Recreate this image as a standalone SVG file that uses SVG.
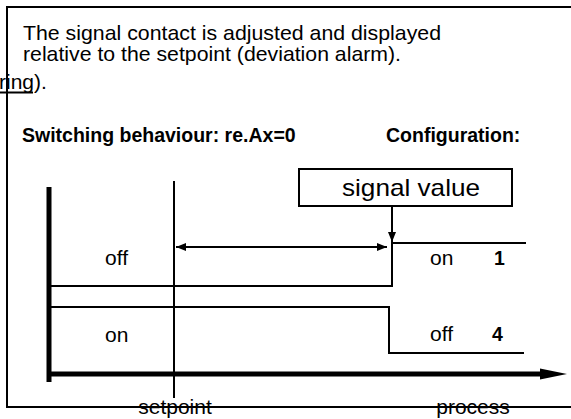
<svg xmlns="http://www.w3.org/2000/svg" width="571" height="419" viewBox="0 0 571 419">
  <defs>
    <style>
      .t { font-family: "Liberation Sans", Arial, Helvetica, sans-serif; font-size: 21px; fill: #000; }
      .b { font-family: "Liberation Sans", Arial, Helvetica, sans-serif; font-size: 19.5px; font-weight: bold; fill: #000; }
      .ln { stroke: #000; fill: none; stroke-width: 2; }
      .thick { stroke: #000; fill: none; stroke-width: 5; }
    </style>
    <marker id="ah" viewBox="0 0 10 8" refX="10" refY="4" markerWidth="10" markerHeight="8" markerUnits="userSpaceOnUse" orient="auto-start-reverse">
      <path d="M0,0 L10,4 L0,8 Z" fill="#000"/>
    </marker>
  </defs>

  <g id="frame">
    <path class="ln" d="M571,7 H7 V407 H571"/>
  </g>

  <g id="description">
    <text class="t" x="23" y="40" textLength="418" lengthAdjust="spacingAndGlyphs">The signal contact is adjusted and displayed</text>
    <text class="t" x="23" y="61" textLength="378" lengthAdjust="spacingAndGlyphs">relative to the setpoint (deviation alarm).</text>
    <text class="t" x="-1" y="89">ring).</text>
    <line x1="0" y1="92.5" x2="33" y2="92.5" stroke="#000" stroke-width="2"/>
  </g>

  <g id="headings">
    <text class="b" x="22" y="142">Switching behaviour: re.Ax=0</text>
    <text class="b" x="386" y="142">Configuration:</text>
  </g>

  <g id="signal-value">
    <rect x="299" y="169" width="213" height="37" fill="#fff" stroke="#000" stroke-width="2"/>
    <text class="t" x="411" y="196" text-anchor="middle" style="font-size:24px" textLength="138" lengthAdjust="spacingAndGlyphs">signal value</text>
  </g>

  <g id="axes">
    <line class="thick" x1="49" y1="187" x2="49" y2="382"/>
    <line class="thick" x1="47" y1="374" x2="542" y2="374"/>
    <polygon points="540,368.5 567,374 540,379.5" fill="#000"/>
    <line class="ln" x1="174" y1="181" x2="174" y2="398"/>
  </g>

  <g id="curve-1">
    <path class="ln" d="M51,286 H392 V243 H526"/>
  </g>
  <g id="curve-4">
    <path class="ln" d="M51,307 H389 V353 H524"/>
  </g>

  <g id="connectors">
    <line class="ln" x1="176" y1="247" x2="387" y2="247" marker-start="url(#ah)" marker-end="url(#ah)"/>
    <line class="ln" x1="392" y1="206" x2="392" y2="242" marker-end="url(#ah)"/>
  </g>

  <g id="labels">
    <text class="t" x="105" y="265">off</text>
    <text class="t" x="105" y="342">on</text>
    <text class="t" x="430" y="265">on</text>
    <text class="b" x="494" y="265">1</text>
    <text class="t" x="430" y="341">off</text>
    <text class="b" x="492" y="341">4</text>
    <text class="t" x="175" y="414" text-anchor="middle">setpoint</text>
    <text class="t" x="473" y="414" text-anchor="middle">process</text>
  </g>
</svg>
